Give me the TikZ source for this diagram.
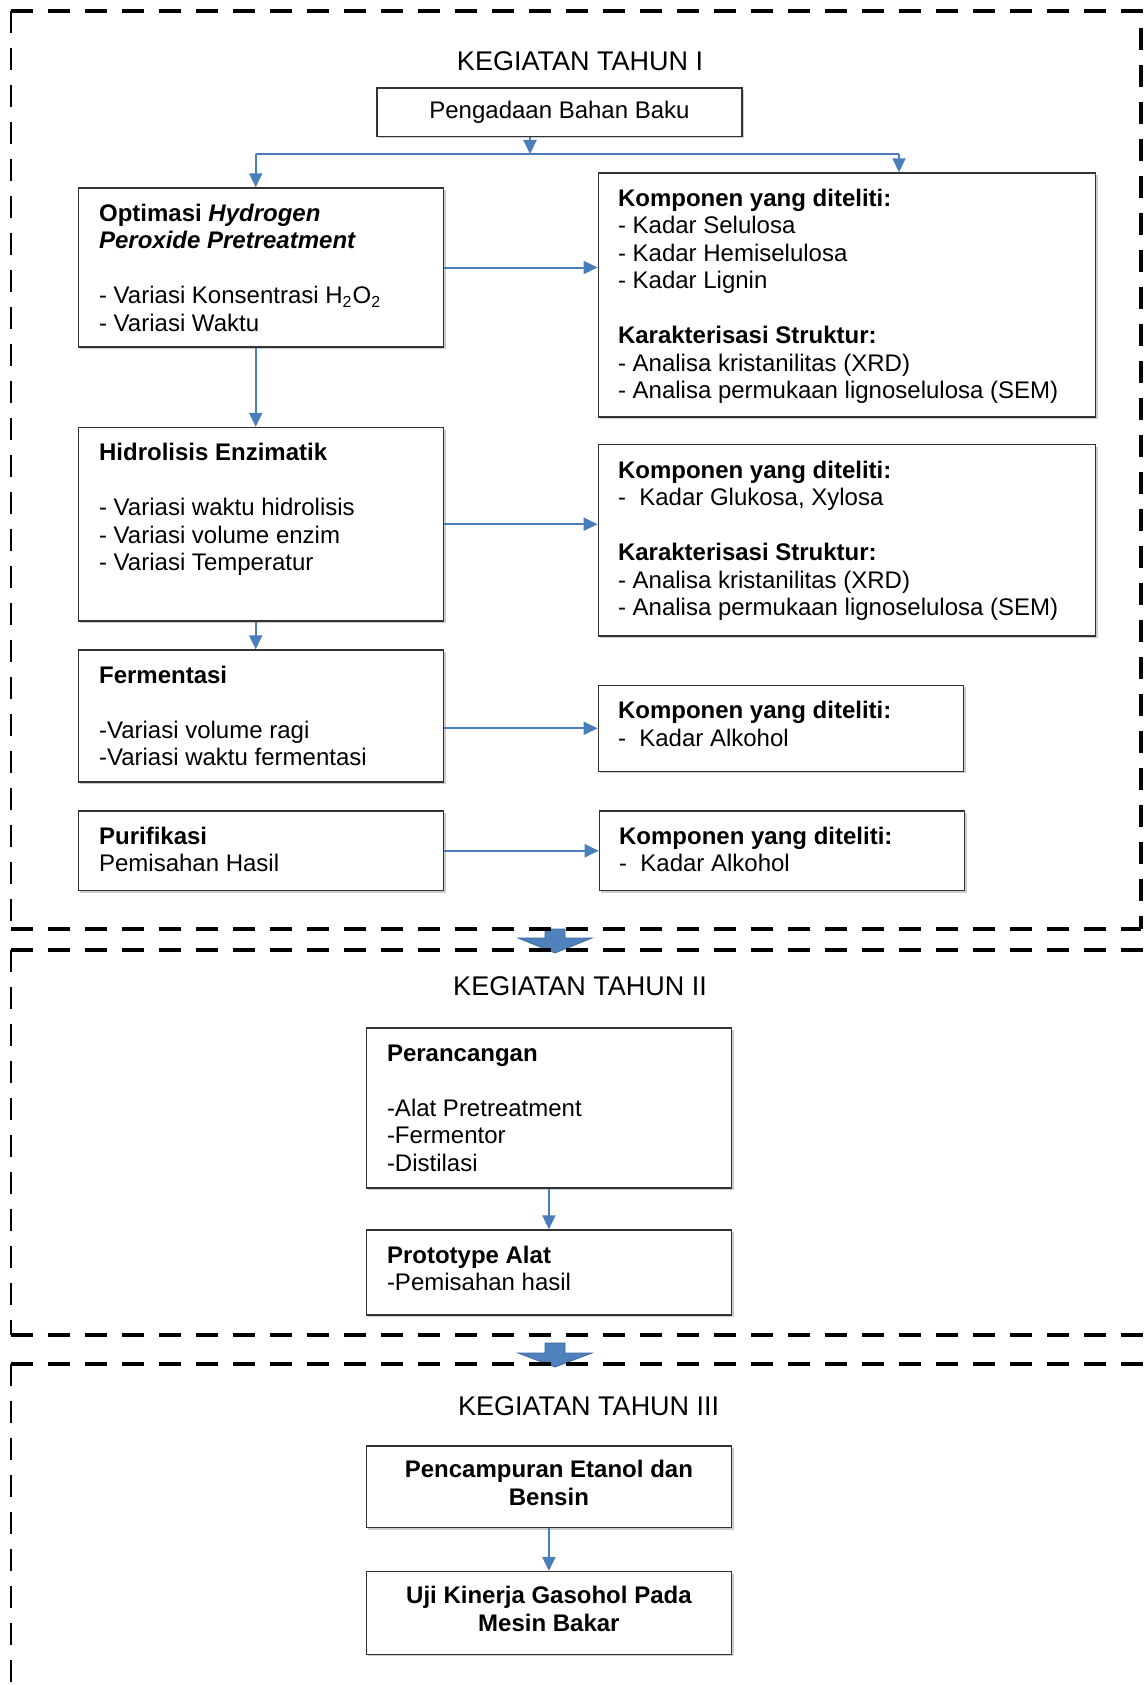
\documentclass[tikz,border=0pt]{standalone}
\usepackage{fontspec}
\setmainfont{Liberation Sans}
\usetikzlibrary{arrows.meta,fit,shadows}
\definecolor{flowblue}{HTML}{4A7EBB}
\definecolor{blockblue}{HTML}{4F81BD}
\definecolor{blockedge}{HTML}{3C6A9E}
\tikzset{
  box/.style={draw=black!80, line width=0.7pt, fill=white, inner sep=0pt,
    drop shadow={shadow xshift=1pt, shadow yshift=-1pt, fill=black!40, opacity=0.5}},
  txt/.style={anchor=north west, align=left, inner sep=0pt, font=\fontsize{12}{13.75}\selectfont},
  ctxt/.style={anchor=north, align=center, inner sep=0pt, font=\fontsize{12}{13.75}\selectfont\bfseries},
  title/.style={inner sep=0pt, font=\fontsize{13.5}{16}\selectfont},
  flow/.style={draw=flowblue, line width=1pt, -{Triangle[length=7pt,width=6.5pt]}},
  link/.style={draw=flowblue, line width=1pt},
  bigdash/.style={line width=2pt, dash pattern=on 11pt off 7.5pt},
  smalldash/.style={line width=1pt, dash pattern=on 11pt off 7.5pt},
  secarrow/.style={fill=blockblue, draw=blockedge, line width=0.4pt}
}
\begin{document}
\begin{tikzpicture}[x=0.5pt, y=-0.5pt]
  \useasboundingbox (0,0) rectangle (1144,1685);

  % year I
  \node[title] (t1) at (580,61) {KEGIATAN TAHUN I};
  \node[box, fit={(377,88) (742,136.4)}] (bahan) {};
  \node[inner sep=0pt, font=\fontsize{12}{13.75}\selectfont] (bahantx) at (bahan.center) {Pengadaan Bahan Baku};

  \node[box, fit={(78.4,188) (443.7,347)}] (opt) {};
  \node[txt] (opttx) at ([shift={(21,14.5)}]opt.north west)
    {\strut\textbf{Optimasi \textit{Hydrogen}}\\\textbf{\textit{Peroxide Pretreatment}}\\[13.75pt]
     - Variasi Konsentrasi H\textsubscript{2}O\textsubscript{2}\\- Variasi Waktu};

  \node[box, fit={(598.3,173) (1095.7,416.8)}] (k1) {};
  \node[txt] (k1tx) at ([shift={(20,14.5)}]k1.north west)
    {\strut\textbf{Komponen yang diteliti:}\\- Kadar Selulosa\\- Kadar Hemiselulosa\\- Kadar Lignin\\[13.75pt]
     \textbf{Karakterisasi Struktur:}\\- Analisa kristanilitas (XRD)\\- Analisa permukaan lignoselulosa (SEM)};

  \node[box, fit={(78.4,427.5) (443.7,620.9)}] (hid) {};
  \node[txt] (hidtx) at ([shift={(21,14.5)}]hid.north west)
    {\strut\textbf{Hidrolisis Enzimatik}\\[13.75pt]- Variasi waktu hidrolisis\\- Variasi volume enzim\\- Variasi Temperatur};

  \node[box, fit={(598.3,444.7) (1095.7,635.9)}] (k2) {};
  \node[txt] (k2tx) at ([shift={(20,14.5)}]k2.north west)
    {\strut\textbf{Komponen yang diteliti:}\\-\ \ Kadar Glukosa, Xylosa\\[13.75pt]
     \textbf{Karakterisasi Struktur:}\\- Analisa kristanilitas (XRD)\\- Analisa permukaan lignoselulosa (SEM)};

  \node[box, fit={(78.4,650) (443.7,782)}] (ferm) {};
  \node[txt] (fermtx) at ([shift={(21,14.5)}]ferm.north west)
    {\strut\textbf{Fermentasi}\\[13.75pt]-Variasi volume ragi\\-Variasi waktu fermentasi};

  \node[box, fit={(598.3,685.3) (963.6,771.3)}] (k3) {};
  \node[txt] (k3tx) at ([shift={(20,14.5)}]k3.north west)
    {\strut\textbf{Komponen yang diteliti:}\\-\ \ Kadar Alkohol};

  \node[box, fit={(78.4,811) (443.7,890.5)}] (pur) {};
  \node[txt] (purtx) at ([shift={(21,14.5)}]pur.north west)
    {\strut\textbf{Purifikasi}\\Pemisahan Hasil};

  \node[box, fit={(599.4,811) (964.6,890.5)}] (k4) {};
  \node[txt] (k4tx) at ([shift={(20,14.5)}]k4.north west)
    {\strut\textbf{Komponen yang diteliti:}\\-\ \ Kadar Alkohol};

  \coordinate (split) at (530,154);
  \coordinate (lft) at (255.7,154);
  \coordinate (rgt) at (899,154);
  \draw[flow] (split |- bahan.south) -- (split);
  \draw[link] (lft) -- (rgt);
  \draw[flow] (lft) -- (lft |- opt.north);
  \draw[flow] (rgt) -- (rgt |- k1.north);
  \draw[flow] (opt.east) -- (opt.east -| k1.west);
  \draw[flow] (lft |- opt.south) -- (lft |- hid.north);
  \draw[flow] (hid.east) -- (hid.east -| k2.west);
  \draw[flow] (lft |- hid.south) -- (lft |- ferm.north);
  \draw[flow] (k3.west -| ferm.east) -- (k3.west);
  \draw[flow] (pur.east) -- (pur.east -| k4.west);

  % year II
  \node[title] (t2) at (580,986) {KEGIATAN TAHUN II};
  \node[box, fit={(366.3,1028) (731.5,1188)}] (ranc) {};
  \node[txt] (ranctx) at ([shift={(21,14.5)}]ranc.north west)
    {\strut\textbf{Perancangan}\\[13.75pt]-Alat Pretreatment\\-Fermentor\\-Distilasi};
  \node[box, fit={(366.3,1230) (731.5,1315)}] (proto) {};
  \node[txt] (prototx) at ([shift={(21,14.5)}]proto.north west)
    {\strut\textbf{Prototype Alat}\\-Pemisahan hasil};
  \draw[flow] (ranc.south) -- (proto.north);

  % year III
  \node[title] (t3) at (588.7,1406) {KEGIATAN TAHUN III};
  \node[box, fit={(366.3,1446) (731.5,1527.5)}] (campur) {};
  \node[ctxt] (campurtx) at ([yshift=-6.5pt]campur.north)
    {\strut Pencampuran Etanol dan\\Bensin};
  \node[box, fit={(366.3,1571.6) (731.5,1654.3)}] (uji) {};
  \node[ctxt] (ujitx) at ([yshift=-6.5pt]uji.north)
    {\strut Uji Kinerja Gasohol Pada\\Mesin Bakar};
  \draw[flow] (campur.south) -- (uji.north);

  % section arrows
  \draw[secarrow] (545,929) -- (565,929) -- (565,938) -- (592,938) -- (555,953)
    -- (518,938) -- (545,938) -- cycle;
  \draw[secarrow] (545,1343) -- (565,1343) -- (565,1353) -- (592,1353) -- (555,1367)
    -- (518,1353) -- (545,1353) -- cycle;

  % frames
  \begin{scope}
    \clip (0,0) rectangle (1144,1685);
    \draw[bigdash] (10.7,10.7) -- (1140.8,10.7) -- (1140.8,929.2);
    \draw[bigdash] (10.7,929.2) -- (1140.8,929.2);
    \draw[smalldash] (10.7,10.7) -- (10.7,929.2);
    \draw[bigdash] (10.7,949.6) -- (1170,949.6);
    \draw[bigdash] (10.7,1335.2) -- (1170,1335.2);
    \draw[smalldash] (10.7,949.6) -- (10.7,1335.2);
    \draw[bigdash] (10.7,1364.2) -- (1170,1364.2);
    \draw[smalldash] (10.7,1364.2) -- (10.7,1700);
  \end{scope}
\end{tikzpicture}
\end{document}
